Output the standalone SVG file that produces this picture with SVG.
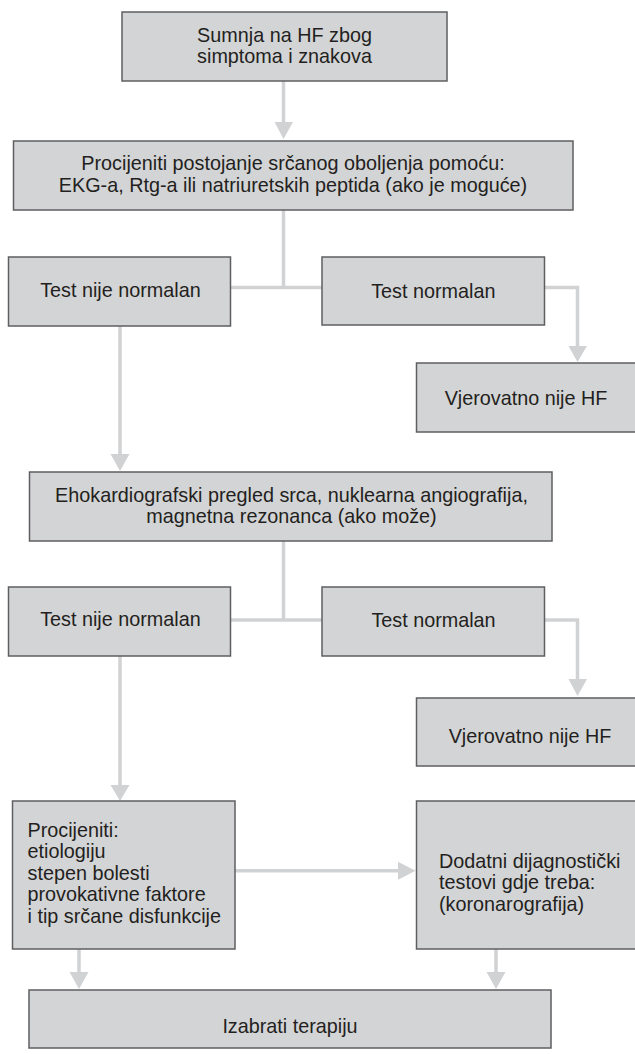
<svg xmlns="http://www.w3.org/2000/svg" width="635" height="1054" viewBox="0 0 635 1054">
<style>
.box{fill:#d3d4d6;stroke:#5f5f61;stroke-width:1.5}
.t{font-family:"Liberation Sans",Arial,Helvetica,sans-serif;font-size:19.8px;fill:#231f20}
.c{text-anchor:middle}
.ln{fill:none;stroke:#d1d2d4;stroke-width:3.5}
.ah{fill:#d1d2d4}
</style>
<rect width="635" height="1054" fill="#ffffff"/>
<g id="connectors">
<path class="ln" d="M283.5 81 V123"/>
<polygon class="ah" points="274.5,122 293,122 283.5,139"/>
<path class="ln" d="M283.5 210 V287.5 M230.5 287.5 H322"/>
<path class="ln" d="M544.5 287.5 H577.5 V347"/>
<polygon class="ah" points="568.5,346 587,346 577.5,362"/>
<path class="ln" d="M120 326 V455"/>
<polygon class="ah" points="110.5,454 129.5,454 120,471"/>
<path class="ln" d="M283.5 541 V620 M230.5 620 H322"/>
<path class="ln" d="M544.5 620 H577.5 V680"/>
<polygon class="ah" points="568.5,679 587,679 577.5,696"/>
<path class="ln" d="M120 656 V786"/>
<polygon class="ah" points="110.5,785 129.5,785 120,801"/>
<path class="ln" d="M235 870.7 H399"/>
<polygon class="ah" points="398,861.7 398,879.7 415.5,870.7"/>
<path class="ln" d="M79 949 V973"/>
<polygon class="ah" points="69.5,972 88.5,972 79,989"/>
<path class="ln" d="M496 949 V973"/>
<polygon class="ah" points="486.5,972 505.5,972 496,989"/>
</g>
<g id="n1">
<rect class="box" x="122" y="12" width="325" height="69"/>
<text class="t c" x="284.5" y="41.5">Sumnja na HF zbog</text>
<text class="t c" x="284.5" y="63.2">simptoma i znakova</text>
</g>
<g id="n2">
<rect class="box" x="13.5" y="141" width="559.5" height="69"/>
<text class="t c" x="293" y="170">Procijeniti postojanje srčanog oboljenja pomoću:</text>
<text class="t c" x="293" y="191.7">EKG-a, Rtg-a ili natriuretskih peptida (ako je moguće)</text>
</g>
<g id="n3">
<rect class="box" x="8.5" y="257" width="222" height="69"/>
<text class="t c" x="120.4" y="296.5">Test nije normalan</text>
</g>
<g id="n4">
<rect class="box" x="322" y="257" width="222.5" height="68"/>
<text class="t c" x="433.3" y="298">Test normalan</text>
</g>
<g id="n5">
<rect class="box" x="416.5" y="363" width="240" height="69"/>
<text class="t c" x="526" y="405">Vjerovatno nije HF</text>
</g>
<g id="n6">
<rect class="box" x="29.5" y="472" width="522.5" height="69"/>
<text class="t c" x="291.5" y="501.7">Ehokardiografski pregled srca, nuklearna angiografija,</text>
<text class="t c" x="291.5" y="523.3">magnetna rezonanca (ako može)</text>
</g>
<g id="n7">
<rect class="box" x="8.5" y="587" width="222" height="69"/>
<text class="t c" x="120.4" y="626">Test nije normalan</text>
</g>
<g id="n8">
<rect class="box" x="322" y="587" width="222.5" height="69"/>
<text class="t c" x="433.5" y="626.7">Test normalan</text>
</g>
<g id="n9">
<rect class="box" x="416.5" y="698" width="240" height="68"/>
<text class="t c" x="530" y="742.7">Vjerovatno nije HF</text>
</g>
<g id="n10">
<rect class="box" x="12.5" y="801" width="222.5" height="148"/>
<text class="t" x="27.5" y="836.5">Procijeniti:</text>
<text class="t" x="27.5" y="858">etiologiju</text>
<text class="t" x="27.5" y="879.5">stepen bolesti</text>
<text class="t" x="27.5" y="901">provokativne faktore</text>
<text class="t" x="27.5" y="922.5">i tip srčane disfunkcije</text>
</g>
<g id="n11">
<rect class="box" x="416.5" y="801" width="240" height="148"/>
<text class="t" x="439" y="867.5">Dodatni dijagnostički</text>
<text class="t" x="439" y="889.2">testovi gdje treba:</text>
<text class="t" x="439" y="910.9">(koronarografija)</text>
</g>
<g id="n12">
<rect class="box" x="29" y="990" width="522" height="58"/>
<text class="t c" x="290" y="1033.3">Izabrati terapiju</text>
</g>
</svg>
